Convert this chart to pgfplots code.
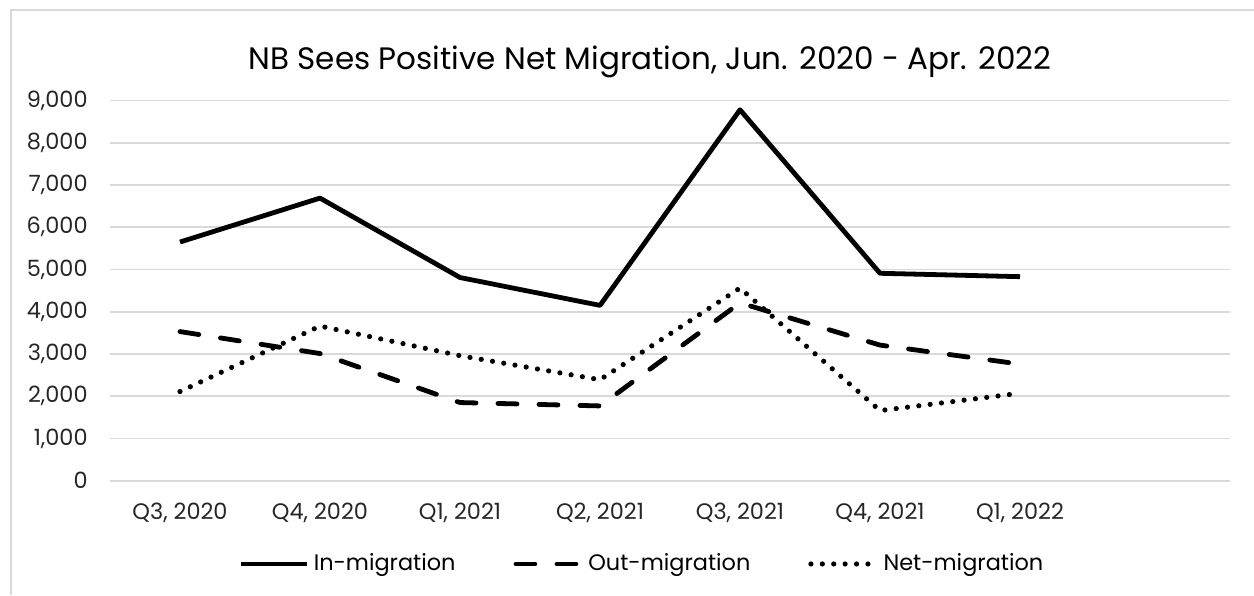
\documentclass[border=0pt]{standalone}
\usepackage{pgfplots}
\pgfplotsset{compat=1.18}
\usepackage{fontspec}
\setmainfont{Poppins}
\definecolor{gridgray}{HTML}{D9D9D9}

\begin{document}
\begin{tikzpicture}
% page frame: 1254x595 px at 0.5pt per px
\useasboundingbox (0,0) rectangle (627pt,297.5pt);
\draw[gridgray, line width=1pt] (5.5pt,0pt) -- (5.5pt,292.5pt) -- (627pt,292.5pt);

\begin{axis}[
    at={(55pt,57.15pt)}, anchor=south west,
    scale only axis,
    width=560pt, height=190.1pt,
    xmin=-0.5, xmax=7.5,
    ymin=0, ymax=9000,
    axis line style={draw=none},
    xtick={0,...,6},
    xticklabels={{Q3, 2020},{Q4, 2020},{Q1, 2021},{Q2, 2021},{Q3, 2021},{Q4, 2021},{Q1, 2022}},
    ytick={0,1000,...,9000},
    major tick length=0pt,
    ymajorgrids=true,
    grid style={gridgray, line width=0.9pt},
    /pgf/number format/.cd, 1000 sep={,}, assume math mode=true,
    /pgfplots/.cd,
    tick label style={font=\fontsize{11.2}{13}\selectfont, text=black!85},
    yticklabel style={inner sep=0pt, xshift=-11pt},
    xticklabel style={inner sep=0pt, yshift=-11pt},
    legend style={at={(0.476,-0.219)}, anchor=center, draw=none, fill=none,
        font=\fontsize{11.2}{13}\selectfont, legend columns=-1,
        /tikz/every odd column/.append style={column sep=0pt},
        /tikz/every even column/.append style={column sep=27pt}},
    legend image code/.code={\draw[#1] (0pt,0pt) -- (33pt,0pt);},
]
\addplot[black, line width=2.4pt, line join=round] coordinates {
    (0,5650) (1,6690) (2,4810) (3,4150) (4,8780) (5,4910) (6,4830)};
\addplot[black, line width=2.4pt, line cap=round, line join=round, dash pattern=on 9.5pt off 11pt] coordinates {
    (0,3530) (1,3010) (2,1850) (3,1770) (4,4210) (5,3210) (6,2760)};
\addplot[black, line width=2.6pt, line cap=round, dash pattern=on 0pt off 5.7pt] coordinates {
    (0,2110) (1,3660) (2,2960) (3,2390) (4,4560) (5,1660) (6,2070)};
\legend{In-migration, Out-migration, Net-migration}
\end{axis}

\node[anchor=base, font=\fontsize{15.5}{18}\selectfont] at (325pt,262.5pt)
    {NB Sees Positive Net Migration, Jun. 2020 - Apr. 2022};
\end{tikzpicture}
\end{document}
